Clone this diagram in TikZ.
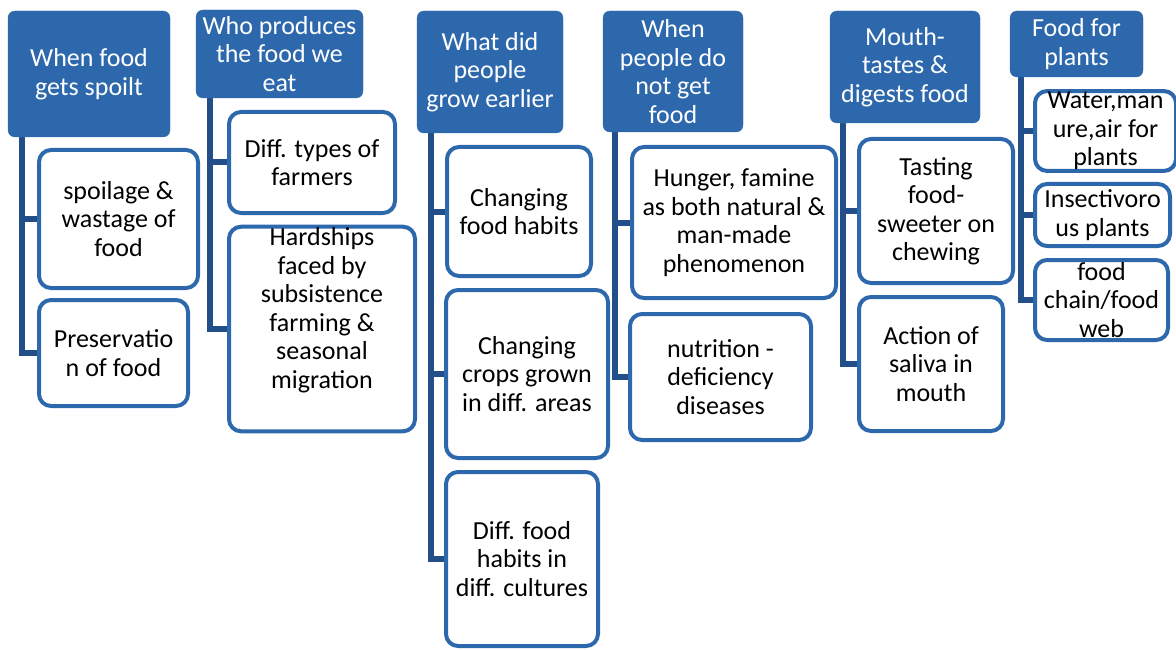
\documentclass[tikz,border=0pt]{standalone}
\usepackage{fontspec}
\setmainfont{Carlito}
\usetikzlibrary{backgrounds}

\definecolor{topicblue}{RGB}{46,104,172}
\definecolor{trunkblue}{RGB}{34,78,138}

\begin{document}
\begin{tikzpicture}[x=1pt, y=-1pt, line join=round,
  every node/.style={font=\fontsize{26}{28.5}\selectfont},
  topic/.style={rectangle, rounded corners=7pt, fill=topicblue, draw=topicblue, text=white, align=center, inner sep=1pt},
  item/.style={rectangle, rounded corners=12pt, draw=topicblue, line width=4pt, fill=white, align=center, inner sep=1pt},
  trunk/.style={draw=trunkblue, line width=6pt, line join=miter}]

\useasboundingbox (0,0) rectangle (1176,650);

% headings
\node (spoilt) at (89,74) [topic, minimum width=162, minimum height=126] {When food\\gets spoilt};
\node (produce) at (279.5,54) [topic, minimum width=167, minimum height=88] {Who produces\\the food we\\eat};
\node (earlier) at (490,72) [topic, minimum width=146, minimum height=122] {What did\\people\\grow earlier};
\node (nofood) at (673,71.5) [topic, minimum width=140, minimum height=121] {When\\people do\\not get\\food};
\node (mouth) at (905,67) [topic, minimum width=150, minimum height=112] {Mouth-\\tastes \&\\digests food};
\node (plants) at (1076.5,44) [topic, minimum width=133, minimum height=66] {Food for\\plants};

% column 1
\node (wastage) at (118.5,219) [item, minimum width=159, minimum height=138] {spoilage \&\\wastage of\\food};
\node (preserve) at (113.5,353) [item, minimum width=149, minimum height=106] {Preservatio\\n of food};

% column 2
\node (farmers) at (312,162.5) [item, minimum width=166, minimum height=101] {Diff. types of\\farmers};
\node (hardship) at (322,329) [item, minimum width=186, minimum height=204, text depth=42pt] {Hardships\\faced by\\subsistence\\farming \&\\seasonal\\migration};

% column 3
\node (habits) at (519,211.5) [item, minimum width=144, minimum height=129] {Changing\\food habits};
\node (crops) at (527,374) [item, minimum width=162, minimum height=168] {Changing\\crops grown\\in diff. areas};
\node (cultures) at (522,559) [item, minimum width=152, minimum height=174] {Diff. food\\habits in\\diff. cultures};

% column 4
\node (hunger) at (734,222.5) [item, minimum width=204, minimum height=151] {Hunger, famine\\as both natural \&\\man-made\\phenomenon};
\node (deficiency) at (720.5,377) [item, minimum width=181, minimum height=126] {nutrition -\\deficiency\\diseases};

% column 5
\node (tasting) at (936,211) [item, minimum width=154, minimum height=144] {Tasting\\food-\\sweeter on\\chewing};
\node (saliva) at (931,364) [item, minimum width=144, minimum height=134] {Action of\\saliva in\\mouth};

% column 6
\node (manure) at (1105.5,131) [item, minimum width=141, minimum height=78] {Water,man\\ure,air for\\plants};
\node (insect) at (1102.5,215) [item, minimum width=135, minimum height=62] {Insectivoro\\us plants};
\node (chain) at (1101.5,300) [item, minimum width=133, minimum height=80] {food\\chain/food\\web};

\begin{scope}[on background layer]
\draw[trunk] ([xshift=14]spoilt.south west) |- (wastage.west);
\draw[trunk] ([xshift=14]spoilt.south west) |- (preserve.west);

\draw[trunk] ([xshift=14]produce.south west) |- (farmers.west);
\draw[trunk] ([xshift=14]produce.south west) |- (hardship.west);

\draw[trunk] ([xshift=14]earlier.south west) |- (habits.west);
\draw[trunk] ([xshift=14]earlier.south west) |- (crops.west);
\draw[trunk] ([xshift=14]earlier.south west) |- (cultures.west);

\draw[trunk] ([xshift=12]nofood.south west) |- (hunger.west);
\draw[trunk] ([xshift=12]nofood.south west) |- (deficiency.west);

\draw[trunk] ([xshift=13]mouth.south west) |- (tasting.west);
\draw[trunk] ([xshift=13]mouth.south west) |- (saliva.west);

\draw[trunk] ([xshift=11]plants.south west) |- (manure.west);
\draw[trunk] ([xshift=11]plants.south west) |- (insect.west);
\draw[trunk] ([xshift=11]plants.south west) |- (chain.west);
\end{scope}

\end{tikzpicture}
\end{document}
